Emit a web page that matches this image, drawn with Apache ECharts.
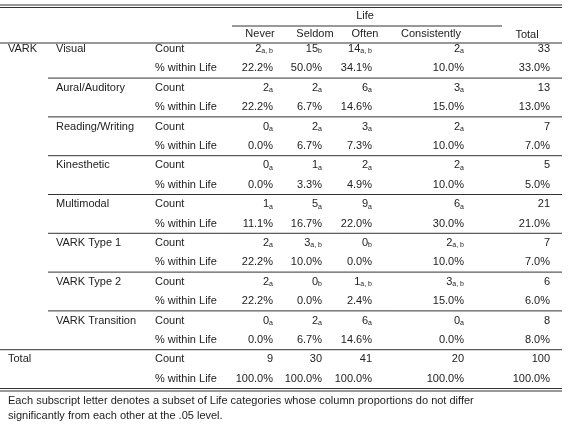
<!DOCTYPE html>
<html>
<head>
<meta charset="utf-8">
<script src="https://cdn.jsdelivr.net/npm/echarts@6/dist/echarts.min.js"></script>
<style>html,body{margin:0;padding:0;background:#fff}#chart{width:580px;height:429px}</style>
</head>
<body>
<div id="chart"></div>
<script>
var columns = ['Never', 'Seldom', 'Often', 'Consistently', 'Total'];
var groups = ['Visual', 'Aural/Auditory', 'Reading/Writing', 'Kinesthetic', 'Multimodal', 'VARK Type 1', 'VARK Type 2', 'VARK Transition'];
var countNever = [2, 2, 0, 0, 1, 2, 2, 0];
var countSeldom = [15, 2, 2, 1, 5, 3, 0, 2];
var countOften = [14, 6, 3, 2, 9, 0, 1, 6];
var countConsistently = [2, 3, 2, 2, 6, 2, 3, 0];
var countTotal = [33, 13, 7, 5, 21, 7, 6, 8];
var subNever = ['a, b', 'a', 'a', 'a', 'a', 'a', 'a', 'a'];
var subSeldom = ['b', 'a', 'a', 'a', 'a', 'a, b', 'b', 'a'];
var subOften = ['a, b', 'a', 'a', 'a', 'a', 'b', 'a, b', 'a'];
var subConsistently = ['a', 'a', 'a', 'a', 'a', 'a, b', 'a, b', 'a'];
var pctNever = ['22.2', '22.2', '0.0', '0.0', '11.1', '22.2', '22.2', '0.0'];
var pctSeldom = ['50.0', '6.7', '6.7', '3.3', '16.7', '10.0', '0.0', '6.7'];
var pctOften = ['34.1', '14.6', '7.3', '4.9', '22.0', '0.0', '2.4', '14.6'];
var pctConsistently = ['10.0', '15.0', '10.0', '10.0', '30.0', '10.0', '15.0', '0.0'];
var pctTotal = ['33.0', '13.0', '7.0', '5.0', '21.0', '7.0', '6.0', '8.0'];
var totalCounts = [9, 30, 41, 20, 100];
var totalPcts = ['100.0', '100.0', '100.0', '100.0', '100.0'];
var footnote = ['Each subscript letter denotes a subset of Life categories whose column proportions do not differ',
  'significantly from each other at the .05 level.'];

var font = '"Liberation Sans", Arial, sans-serif';
var color = '#222';
var colRight = [273, 322, 372, 464, 550];
var colHead = [260, 315, 365, 431, 527];
var top0 = 49, rowH = 19.4;

var els = [];
function text(x, y, s, align, rich) {
  els.push({ type: 'text', x: x, y: y, style: {
    text: s, fill: color, font: '11px ' + font, align: align || 'left', verticalAlign: 'middle',
    rich: rich
  }});
}
function line(x1, x2, y, w) {
  els.push({ type: 'line', shape: { x1: x1, y1: y, x2: x2, y2: y }, style: { stroke: '#333', lineWidth: w || 1 } });
}
var rich = { s: { fontSize: 7, fill: color, fontFamily: font, padding: [5, 0, 0, 0] },
  n: { fontSize: 11, fill: color, fontFamily: font } };

var counts = [countNever, countSeldom, countOften, countConsistently, countTotal];
var subs = [subNever, subSeldom, subOften, subConsistently, null];
var pcts = [pctNever, pctSeldom, pctOften, pctConsistently, pctTotal];

line(0, 562, 5); line(0, 562, 7.5);
text(365, 16, 'Life', 'center');
line(232, 502, 26);
columns.forEach(function (c, i) { text(colHead[i], c === 'Total' ? 35 : 34, c, 'center'); });
line(0, 562, 43);
text(8, top0, 'VARK');
groups.forEach(function (g, gi) {
  var y = top0 + gi * 2 * rowH;
  text(56, y, g);
  text(155, y, 'Count');
  text(155, y + rowH, '% within Life');
  counts.forEach(function (arr, ci) {
    var s = subs[ci] ? '{n|' + arr[gi] + '}{s|' + subs[ci][gi] + '}' : '{n|' + arr[gi] + '}';
    text(colRight[ci], y, s, 'right', rich);
    text(colRight[ci], y + rowH, pcts[ci][gi] + '%', 'right');
  });
  if (gi < groups.length - 1) line(48, 562, y + rowH * 1.5);
});
var yt = top0 + groups.length * 2 * rowH;
line(0, 562, yt - rowH * 0.5);
text(8, yt, 'Total');
text(155, yt, 'Count');
text(155, yt + rowH, '% within Life');
totalCounts.forEach(function (v, ci) {
  text(colRight[ci], yt, String(v), 'right');
  text(colRight[ci], yt + rowH, totalPcts[ci] + '%', 'right');
});
line(0, 562, yt + rowH * 1.5); line(0, 562, yt + rowH * 1.5 + 2.5);
footnote.forEach(function (f, i) { text(8, yt + rowH * 1.5 + 12 + i * 15, f); });

var chart = echarts.init(document.getElementById('chart'));
chart.setOption({ animation: false, graphic: { elements: els } });
</script>
</body>
</html>
